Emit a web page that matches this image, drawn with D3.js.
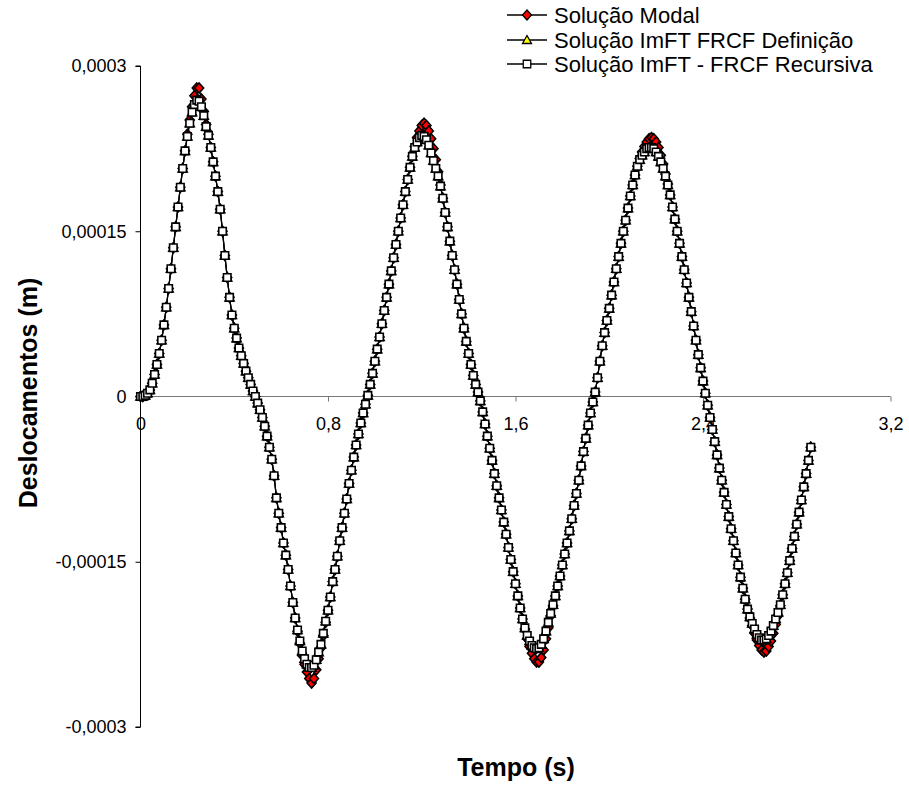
<!DOCTYPE html>
<html><head><meta charset="utf-8">
<script src="https://cdn.jsdelivr.net/npm/d3@7"></script>
<style>
body{margin:0;background:#fff;}
text{font-family:"Liberation Sans",Arial,sans-serif;}
</style></head>
<body><svg id="chart" width="909" height="787"></svg>
<script>
// Deslocamentos em unidades de 1e-6 m, amostrados a cada 0,01 s (t = 0 ... 2,86 s)
const modalValues = [
0,0,1,3,6,12,20,29,39,51,
65,81,98,116,135,154,172,190,207,223,
238,251,263,273,280,280,270,259,247,238,
226,213,200,186,170,150,128,108,90,74,
62,53,44,37,30,23,17,11,5,0,
-6,-12,-19,-27,-36,-46,-57,-72,-92,-106,
-119,-133,-144,-157,-172,-187,-201,-213,-224,-235,
-243,-250,-256,-260,-256,-248,-238,-228,-217,-205,
-194,-182,-168,-157,-145,-131,-119,-106,-93,-79,
-67,-55,-44,-34,-24,-15,-7,1,11,21,
32,43,54,66,78,90,102,114,126,138,
150,162,174,186,197,208,218,227,235,241,
246,248,246,241,234,225,215,204,192,180,
167,154,141,128,115,102,88,75,62,50,
39,29,19,11,4,-4,-14,-25,-36,-47,
-58,-70,-81,-92,-103,-114,-125,-137,-148,-159,
-170,-181,-192,-202,-211,-220,-227,-233,-238,-241,
-241,-237,-230,-220,-210,-199,-190,-181,-172,-163,
-153,-143,-133,-122,-111,-99,-88,-76,-63,-50,
-38,-26,-15,-5,4,17,32,46,58,69,
80,92,104,116,127,139,150,160,171,182,
192,201,209,216,222,227,231,234,235,234,
231,226,219,211,202,193,183,172,161,150,
139,127,115,103,90,77,64,51,38,26,
14,3,-8,-19,-30,-41,-53,-65,-76,-87,
-98,-109,-120,-131,-142,-153,-164,-174,-184,-193,
-201,-208,-215,-221,-226,-230,-232,-231,-227,-222,
-215,-207,-199,-190,-180,-170,-160,-149,-138,-127,
-116,-105,-94,-82,-70,-58,-46
];
const definicaoValues = [
0,0,1,3,6,12,20,29,39,51,
65,81,98,116,135,154,172,190,207,223,
236,248,258,265,269,268,263,255,245,237,
226,213,200,186,170,150,128,108,90,74,
62,53,44,37,30,23,17,11,5,0,
-6,-12,-19,-27,-36,-46,-57,-72,-92,-106,
-119,-133,-144,-157,-172,-187,-201,-212,-222,-231,
-238,-243,-246,-246,-244,-239,-232,-225,-215,-204,
-194,-182,-168,-157,-145,-131,-119,-106,-93,-79,
-67,-55,-44,-34,-24,-15,-7,1,11,21,
32,43,54,66,78,90,102,114,126,138,
150,162,174,186,197,208,218,226,231,235,
237,236,233,228,221,214,207,200,191,180,
167,154,141,128,115,102,88,75,62,50,
39,29,19,11,4,-4,-14,-25,-36,-47,
-58,-70,-81,-92,-103,-114,-125,-137,-148,-159,
-170,-181,-192,-202,-210,-217,-222,-226,-228,-229,
-228,-225,-220,-213,-205,-197,-189,-181,-172,-163,
-153,-143,-133,-122,-111,-99,-88,-76,-63,-50,
-38,-26,-15,-5,4,17,32,46,58,69,
80,92,104,116,127,139,150,160,171,182,
192,201,209,215,219,222,225,226,226,225,
222,218,213,207,200,192,183,172,161,150,
139,127,115,103,90,77,64,51,38,26,
14,3,-8,-19,-30,-41,-53,-65,-76,-87,
-98,-109,-120,-131,-142,-153,-164,-174,-184,-193,
-200,-206,-211,-216,-219,-221,-221,-220,-217,-213,
-208,-202,-196,-189,-180,-170,-160,-149,-138,-127,
-116,-105,-94,-82,-70,-58,-46
];
const recursivaValues = [
0,0,1,3,6,12,20,29,39,51,
65,81,98,116,135,154,172,190,207,223,
236,248,258,265,269,268,263,255,245,237,
226,213,200,186,170,150,128,108,90,74,
62,53,44,37,30,23,17,11,5,0,
-6,-12,-19,-27,-36,-46,-57,-72,-92,-106,
-119,-133,-144,-157,-172,-187,-201,-212,-222,-231,
-238,-243,-246,-246,-244,-239,-232,-225,-215,-204,
-194,-182,-168,-157,-145,-131,-119,-106,-93,-79,
-67,-55,-44,-34,-24,-15,-7,1,11,21,
32,43,54,66,78,90,102,114,126,138,
150,162,174,186,197,208,218,226,231,235,
237,236,233,228,221,214,207,200,191,180,
167,154,141,128,115,102,88,75,62,50,
39,29,19,11,4,-4,-14,-25,-36,-47,
-58,-70,-81,-92,-103,-114,-125,-137,-148,-159,
-170,-181,-192,-202,-210,-217,-222,-226,-228,-229,
-228,-225,-220,-213,-205,-197,-189,-181,-172,-163,
-153,-143,-133,-122,-111,-99,-88,-76,-63,-50,
-38,-26,-15,-5,4,17,32,46,58,69,
80,92,104,116,127,139,150,160,171,182,
192,201,209,215,219,222,225,226,226,225,
222,218,213,207,200,192,183,172,161,150,
139,127,115,103,90,77,64,51,38,26,
14,3,-8,-19,-30,-41,-53,-65,-76,-87,
-98,-109,-120,-131,-142,-153,-164,-174,-184,-193,
-200,-206,-211,-216,-219,-221,-221,-220,-217,-213,
-208,-202,-196,-189,-180,-170,-160,-149,-138,-127,
-116,-105,-94,-82,-70,-58,-46
];
const timeStep = 0.01;
const unit = 1e-6;
const xTicks = [0, 0.8, 1.6, 2.4, 3.2];
const xTickLabels = ["0", "0,8", "1,6", "2,4", "3,2"];
const yTicks = [0.0003, 0.00015, 0, -0.00015, -0.0003];
const yTickLabels = ["0,0003", "0,00015", "0", "-0,00015", "-0,0003"];
const seriesNames = ["Solução Modal", "Solução ImFT FRCF Definição", "Solução ImFT - FRCF Recursiva"];
const xTitle = "Tempo (s)";
const yTitle = "Deslocamentos (m)";

const svg = d3.select("#chart");
const x = d3.scaleLinear().domain([0, 3.2]).range([140.5, 890.5]);
const y = d3.scaleLinear().domain([-0.0003, 0.0003]).range([727, 66]);

function toPoints(vals){ return vals.map((v,i)=>({t: i*timeStep, v: v*unit})); }
const series = [
  {name: seriesNames[0], data: toPoints(modalValues), shape: "diamond", fill: "#FF0000"},
  {name: seriesNames[1], data: toPoints(definicaoValues), shape: "triangle", fill: "#FFFF00"},
  {name: seriesNames[2], data: toPoints(recursivaValues), shape: "square", fill: "#FFFFFF"}
];

const tickFont = "18px";
// axes
const yAxis = d3.axisLeft(y).tickValues(yTicks).tickSize(5).tickFormat((d,i)=>yTickLabels[i]);
const gy = svg.append("g").attr("transform", `translate(${x(0)},0)`).call(yAxis);
gy.select(".domain").attr("stroke","#000").attr("d", `M-5,${y(0.0003)}H0V${y(-0.0003)}H-5`);
gy.selectAll(".tick line").attr("stroke","#000");
gy.selectAll(".tick text").attr("x", -14).attr("fill","#000")
  .style("font-size",tickFont).style("font-family","'Liberation Sans',Arial,sans-serif");

const xAxis = d3.axisBottom(x).tickValues(xTicks).tickSize(5).tickFormat((d,i)=>xTickLabels[i]);
const gx = svg.append("g").attr("transform", `translate(0,${y(0)})`).call(xAxis);
gx.select(".domain").attr("stroke","#777").attr("d", `M${x(0)},0H${x(3.2)}`);
gx.selectAll(".tick line").attr("stroke","#777");
gx.selectAll(".tick text").attr("y", 21).attr("fill","#000")
  .style("font-size",tickFont).style("font-family","'Liberation Sans',Arial,sans-serif");

// titles
svg.append("text").attr("x", 516).attr("y", 776).attr("text-anchor","middle")
  .style("font-size","25px").style("font-weight","bold").text(xTitle);
svg.append("text").attr("transform","translate(37,393) rotate(-90)").attr("text-anchor","middle")
  .style("font-size","25px").style("font-weight","bold").text(yTitle);

function markerPath(shape){
  if(shape==="diamond") return "M0,-5L4.5,0L0,5L-4.5,0Z";
  if(shape==="triangle") return "M0,-4.5L4.5,3.5H-4.5Z";
  return "M-3.75,-3.75H3.75V3.75H-3.75Z";
}
const line = d3.line().x(d=>x(d.t)).y(d=>y(d.v));
series.forEach(s=>{
  const g = svg.append("g");
  g.append("path").datum(s.data).attr("d", line).attr("fill","none").attr("stroke","#000").attr("stroke-width",1.2);
  g.selectAll("path.m").data(s.data).enter().append("path").attr("class","m")
    .attr("d", markerPath(s.shape))
    .attr("transform", d=>`translate(${x(d.t)},${y(d.v)})`)
    .attr("fill", s.fill).attr("stroke","#000").attr("stroke-width",1.6);
});

// legend
const legend = svg.append("g");
const legY = [15, 40, 64];
series.forEach((s,i)=>{
  const gl = legend.append("g").attr("transform", `translate(0,${legY[i]})`);
  gl.append("line").attr("x1",507).attr("x2",547).attr("y1",0).attr("y2",0).attr("stroke","#000").attr("stroke-width",1.5);
  gl.append("path").attr("d", markerPath(s.shape)).attr("transform","translate(527,0)")
    .attr("fill", s.fill).attr("stroke","#000").attr("stroke-width",1.3);
  gl.append("text").attr("x",554).attr("y",8).style("font-size","22px").text(s.name);
});
</script></body></html>
